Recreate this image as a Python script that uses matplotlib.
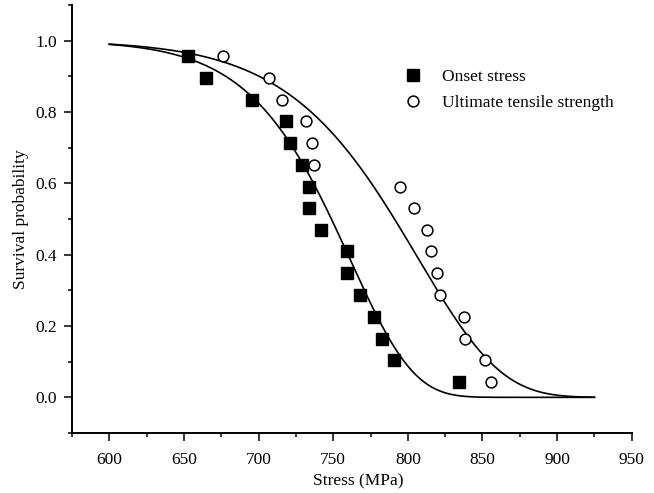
import numpy as np
import matplotlib
matplotlib.use("Agg")
import matplotlib.pyplot as plt
from matplotlib.ticker import MultipleLocator

plt.rcParams['font.family'] = ['Liberation Serif', 'DejaVu Serif']
plt.rcParams['font.size'] = 12.5

# survival probability (median ranks) shared by both data sets
survival = [0.957, 0.896, 0.835, 0.774, 0.713, 0.652, 0.591, 0.530,
            0.470, 0.409, 0.348, 0.287, 0.226, 0.165, 0.104, 0.043]

# measured stresses (MPa)
onset_stress = [652.6, 665.0, 695.6, 718.7, 721.4, 729.0, 733.7, 733.9,
                742.0, 759.1, 759.1, 768.0, 777.4, 783.0, 790.8, 834.5]
uts_stress = [676.1, 707.1, 715.4, 731.5, 736.0, 737.3, 794.9, 804.3,
              812.8, 815.5, 819.3, 821.8, 837.4, 838.4, 851.5, 855.6]

# Weibull fits: (modulus, characteristic stress)
onset_fit = (19.0, 763.4)
uts_fit = (15.5, 810.0)
fit_range = (600, 925)


def weibull_survival(s, m, s0):
    return np.exp(-(s / s0) ** m)


fig = plt.figure(figsize=(6.54, 4.93), dpi=100)
ax = fig.add_axes([0.110, 0.1217, 0.856, 0.868])

s = np.linspace(fit_range[0], fit_range[1], 400)
ax.plot(s, weibull_survival(s, *onset_fit), color='black', lw=1.2)
ax.plot(s, weibull_survival(s, *uts_fit), color='black', lw=1.2)

ax.plot(onset_stress, survival, ls='none', marker='s', ms=8.6,
        mfc='black', mec='black', label='Onset stress')
ax.plot(uts_stress, survival, ls='none', marker='o', ms=7.8,
        mfc='white', mec='black', mew=1.1, label='Ultimate tensile strength')

ax.set_xlim(575, 950)
ax.set_ylim(-0.1, 1.1)
ax.xaxis.set_major_locator(MultipleLocator(50))
ax.xaxis.set_minor_locator(MultipleLocator(25))
ax.yaxis.set_major_locator(MultipleLocator(0.2))
ax.yaxis.set_minor_locator(MultipleLocator(0.1))
ax.set_yticks([0.0, 0.2, 0.4, 0.6, 0.8, 1.0])
ax.set_xticks(np.arange(600, 951, 50))

for side in ('top', 'right'):
    ax.spines[side].set_visible(False)
for side in ('left', 'bottom'):
    ax.spines[side].set_linewidth(1.4)

ax.tick_params(which='major', direction='out', length=6, width=1.1)
ax.tick_params(which='minor', direction='out', length=3, width=1.1)
ax.tick_params(axis='x', which='major', pad=7.5)
ax.tick_params(axis='y', which='major', pad=5)

ax.set_xlabel('Stress (MPa)')
ax.set_ylabel('Survival probability')
ax.xaxis.set_label_coords(0.511, -0.095)
ax.yaxis.set_label_coords(-0.077, 0.50)

ax.legend(loc='upper left', bbox_to_anchor=(0.593, 0.851), frameon=False,
          handlelength=1.0, handletextpad=1.2, labelspacing=0.55,
          borderpad=0, borderaxespad=0, numpoints=1)

fig.savefig('out.png', dpi=100)
